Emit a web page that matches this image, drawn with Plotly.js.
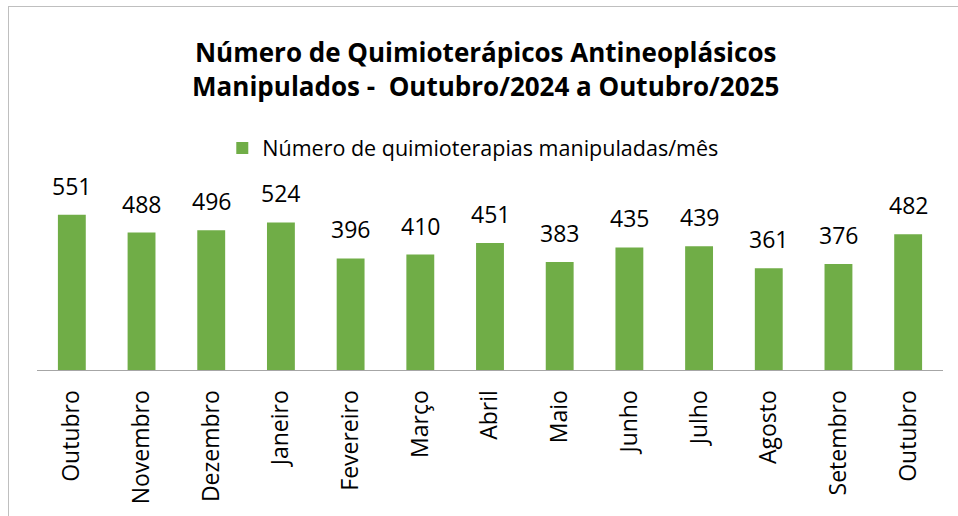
<!DOCTYPE html>
<html>
<head>
<meta charset="utf-8">
<script src="https://cdn.plot.ly/plotly-3.0.1.min.js"></script>
<style>
html,body{margin:0;padding:0;background:#fff;}
#wrap{position:relative;width:958px;height:516px;overflow:hidden;}
#chart{position:absolute;left:0;top:0;width:958px;height:516px;}
#frame{position:absolute;left:8px;top:6px;width:1000px;height:600px;border-left:1px solid #BFBFBF;border-top:1px solid #BFBFBF;pointer-events:none;}
</style>
</head>
<body>
<div id="wrap"><div id="chart"></div><div id="frame"></div></div>
<script>
const months = ["Outubro","Novembro","Dezembro","Janeiro","Fevereiro","Março","Abril","Maio","Junho","Julho","Agosto","Setembro","Outubro"];
const values = [551,488,496,524,396,410,451,383,435,439,361,376,482];
const seriesName = "Número de quimioterapias manipuladas/mês";
const titleText = "<b>Número de Quimioterápicos Antineoplásicos<br>Manipulados -  Outubro/2024 a Outubro/2025</b>";

const idx = months.map((m,i)=>i);
const font = "Open Sans, Noto Sans, sans-serif";

const trace = {
  type: "bar",
  x: idx,
  y: values,
  name: seriesName,
  marker: {color: "#70AD47"},
  showlegend: true,
  hoverinfo: "none"
};

const annotations = values.map((v,i)=>({
  x: i, y: v, xref: "x", yref: "y",
  text: String(v), showarrow: false,
  yanchor: "bottom", yshift: 11,
  font: {family: font, size: 23, color: "#000"}
}));

const layout = {
  width: 958, height: 516,
  margin: {l: 37, r: 15, t: 201, b: 146},
  paper_bgcolor: "#fff", plot_bgcolor: "#fff",
  title: {
    text: titleText,
    font: {family: font, size: 26, color: "#000"},
    x: 0.507, xanchor: "center",
    xref: "container", yref: "container",
    y: 0.879, yanchor: "middle"
  },
  bargap: 0.6,
  showlegend: true,
  legend: {
    orientation: "h", x: 0.481, xanchor: "center", y: 1.314, yanchor: "middle",
    font: {family: font, size: 21.5, color: "#000"},
    itemwidth: 30
  },
  xaxis: {
    tickmode: "array", tickvals: idx, ticktext: months,
    tickangle: -90, ticks: "", ticklabelstandoff: 10,
    showline: true, linecolor: "#A6A6A6", linewidth: 1,
    showgrid: false, zeroline: false,
    range: [-0.5, months.length - 0.5],
    tickfont: {family: font, size: 23, color: "#000"}
  },
  yaxis: {
    range: [0, 600], visible: false, showgrid: false, zeroline: false
  },
  annotations: annotations
};

Plotly.newPlot("chart", [trace], layout, {displayModeBar: false, staticPlot: true});
</script>
</body>
</html>
